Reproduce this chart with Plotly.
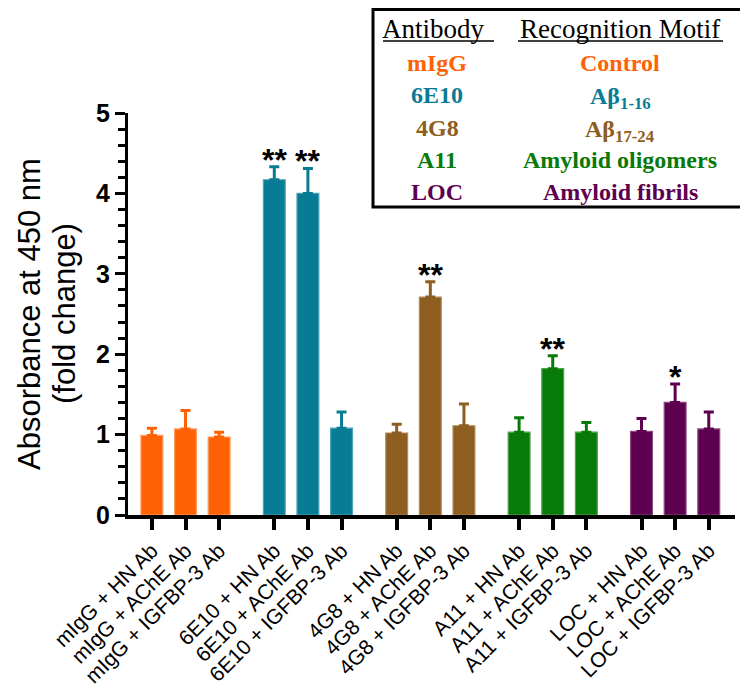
import plotly.graph_objects as go

# ---- data ----
antibodies = ["mIgG", "6E10", "4G8", "A11", "LOC"]
targets = ["HN Ab", "AChE Ab", "IGFBP-3 Ab"]
means_mIgG = [0.99, 1.07, 0.97]
means_6E10 = [4.17, 4.00, 1.08]
means_4G8 = [1.02, 2.71, 1.11]
means_A11 = [1.03, 1.82, 1.03]
means_LOC = [1.04, 1.40, 1.07]
err_mIgG = [0.09, 0.23, 0.06]
err_6E10 = [0.16, 0.31, 0.20]
err_4G8 = [0.11, 0.19, 0.27]
err_A11 = [0.18, 0.16, 0.12]
err_LOC = [0.16, 0.23, 0.21]
sig_mIgG = ["", "", ""]
sig_6E10 = ["**", "**", ""]
sig_4G8 = ["", "**", ""]
sig_A11 = ["", "**", ""]
sig_LOC = ["", "*", ""]
motifs = ["Control", "Aβ<sub>1-16</sub>", "Aβ<sub>17-24</sub>", "Amyloid oligomers", "Amyloid fibrils"]
y_title_lines = ["Absorbance at 450 nm", "(fold change)"]
y_ticks = [0, 1, 2, 3, 4, 5]

means = [means_mIgG, means_6E10, means_4G8, means_A11, means_LOC]
errs = [err_mIgG, err_6E10, err_4G8, err_A11, err_LOC]
sigs = [sig_mIgG, sig_6E10, sig_4G8, sig_A11, sig_LOC]

# ---- style ----
colors = ["#FF6205", "#087C94", "#8E5D20", "#087A08", "#5E0050"]
edges = ["#FF9A60", "#4FA3B6", "#B48A57", "#4FA34F", "#8A4A80"]
GROUP_STEP = 3.64
OFF = 8  # page body margin offset

fig = go.Figure()
tickvals, ticktext = [], []
annotations = []
for g, ab in enumerate(antibodies):
    xs = [g * GROUP_STEP + i for i in range(len(targets))]
    tickvals += xs
    ticktext += [f"{ab} + {t}" for t in targets]
    fig.add_trace(go.Bar(
        x=xs, y=means[g], width=0.65,
        marker=dict(color=colors[g], line=dict(color=edges[g], width=1.2)),
        error_y=dict(type="data", array=errs[g], arrayminus=[0] * len(xs),
                     symmetric=False, color=colors[g], thickness=3, width=5),
        showlegend=False,
    ))
    for x, m, e, s in zip(xs, means[g], errs[g], sigs[g]):
        if s:
            annotations.append(dict(
                x=x, y=m + e, xref="x", yref="y", text=f"<b>{s}</b>",
                showarrow=False, xanchor="center", yanchor="bottom", yshift=-13,
                font=dict(family="Liberation Sans, Arial", size=32, color="black")))

W, H = 748 - OFF, 692 - OFF
L = 128 - OFF
T = 113 - OFF
R = W - (735 - OFF)
B = H - (515 - OFF)
pw, ph = W - L - R, H - T - B


def px(xp):
    return (xp - OFF - L) / pw


def py(yp):
    return (H - B - (yp - OFF)) / ph


# legend box
fig.add_shape(type="rect", xref="paper", yref="paper",
              x0=px(373), x1=px(742), y0=py(207), y1=py(9.5),
              line=dict(color="black", width=3), fillcolor="white", layer="above")
serif = "Liberation Serif, Times New Roman, serif"
annotations.append(dict(x=px(433), y=py(29), xref="paper", yref="paper", text="Antibody",
                        showarrow=False, xanchor="center", yanchor="middle",
                        font=dict(family=serif, size=27, color="black")))
annotations.append(dict(x=px(620), y=py(29), xref="paper", yref="paper", text="Recognition Motif",
                        showarrow=False, xanchor="center", yanchor="middle",
                        font=dict(family=serif, size=27, color="black")))
fig.add_shape(type="line", xref="paper", yref="paper", x0=px(383), x1=px(494),
              y0=py(41), y1=py(41), line=dict(color="black", width=1.5))
fig.add_shape(type="line", xref="paper", yref="paper", x0=px(518), x1=px(723),
              y0=py(41), y1=py(41), line=dict(color="black", width=1.5))
row_y = [63, 95, 128, 160, 192]
for g, ab in enumerate(antibodies):
    annotations.append(dict(x=px(437), y=py(row_y[g]), xref="paper", yref="paper",
                            text=f"<b>{ab}</b>", showarrow=False,
                            xanchor="center", yanchor="middle",
                            font=dict(family=serif, size=24, color=colors[g])))
    annotations.append(dict(x=px(620), y=py(row_y[g] + (3 if "<sub>" in motifs[g] else 0)),
                            xref="paper", yref="paper",
                            text=f"<b>{motifs[g]}</b>", showarrow=False,
                            xanchor="center", yanchor="middle",
                            font=dict(family=serif, size=24, color=colors[g])))

# y-axis title (two lines)
for txt, cx in zip(y_title_lines, [29, 64]):
    annotations.append(dict(x=px(cx), y=0.5, xref="paper", yref="paper",
                            text=txt, textangle=-90, borderpad=0,
                            showarrow=False, xanchor="center", yanchor="middle",
                            font=dict(family="Liberation Sans, Arial", size=31, color="black")))

fig.update_layout(
    width=W, height=H, margin=dict(l=L, r=R, t=T, b=B, autoexpand=False),
    paper_bgcolor="white", plot_bgcolor="white",
    annotations=annotations,
    font=dict(family="Liberation Sans, Arial", color="black"),
)
fig.update_xaxes(
    range=[-0.71, 4 * GROUP_STEP + 2 + 0.78], tickvals=tickvals, ticktext=ticktext,
    tickangle=-45, tickfont=dict(size=21, family="Liberation Sans, Arial", color="black"),
    showline=True, linewidth=4, linecolor="black", ticks="outside", ticklen=11,
    tickwidth=4, tickcolor="black", showgrid=False, zeroline=False, automargin=False,
)
fig.update_yaxes(
    range=[0, 5], tickvals=y_ticks, ticktext=[str(t) for t in y_ticks],
    tickfont=dict(size=25, family="Liberation Sans, Arial", color="black", weight="bold"),
    showline=True, linewidth=3, linecolor="black", ticks="outside", ticklen=10,
    tickwidth=3, tickcolor="black", showgrid=False, zeroline=False, automargin=False,
    minor=dict(dtick=0.2, ticks="outside", ticklen=7, tickwidth=3, tickcolor="black"),
)
fig.write_html("out.html")
